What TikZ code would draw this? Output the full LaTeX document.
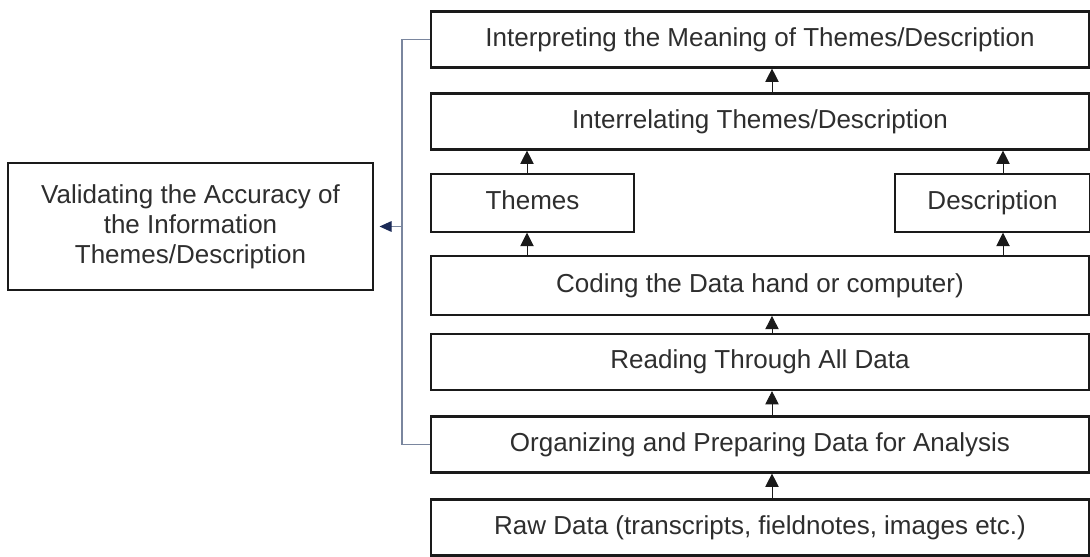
\documentclass[tikz,border=0pt]{standalone}
\usepackage{fontspec}
\setmainfont{Liberation Sans}
\usetikzlibrary{arrows.meta}
\definecolor{boxline}{HTML}{1A1A1A}
\definecolor{boxtext}{HTML}{2E2E2E}
\definecolor{brline}{HTML}{7A869E}
\definecolor{navy}{HTML}{1B2A57}
\tikzset{
  stage/.style={draw=boxline, line width=1.6pt, fill=white, minimum height=42pt,
    inner sep=2pt, text=boxtext, font=\fontsize{19.5}{22.5}\selectfont},
  oneline/.style={stage, text height=14pt, text depth=4pt},
  up/.style={-{Triangle[width=10pt,length=10pt]}, line width=0.7pt, boxline},
  bracket/.style={brline, line width=0.8pt},
}
\begin{document}
\begin{tikzpicture}[x=0.75pt,y=-0.75pt]
    \useasboundingbox (0,0) rectangle (1090,557);

    % 箭头所在的竖线位置
    \coordinate (cx) at (772,0);
    \coordinate (tx) at (527,0);
    \coordinate (dx) at (1003,0);

    % 各阶段方框
    \node[oneline, minimum width=494pt] (interp) at (760,39.5) {Interpreting the Meaning of Themes/Description};
    \node[oneline, minimum width=494pt] (interrel) at (760,121.5) {Interrelating Themes/Description};
    \node[oneline, minimum width=152pt, minimum height=43pt] (themes) at (532.5,203) {Themes};
    \node[oneline, minimum width=146pt, minimum height=43pt] (desc) at (992.5,203) {Description};
    \node[oneline, minimum width=494pt, minimum height=44pt] (code) at (760,285.5) {Coding the Data hand or computer)};
    \node[oneline, minimum width=494pt] (read) at (760,362) {Reading Through All Data};
    \node[oneline, minimum width=494pt] (org) at (760,444.5) {Organizing and Preparing Data for Analysis};
    \node[oneline, minimum width=494pt] (raw) at (760,527.5) {Raw Data (transcripts, fieldnotes, images etc.)};
    \node[stage, minimum width=274pt, minimum height=95pt, align=center, inner sep=6pt] (valid) at (190.5,226.5)
        {Validating the Accuracy of\\the Information\\Themes/Description};

    % 向上的箭头
    \draw[up] (raw.north -| cx) -- (org.south -| cx);
    \draw[up] (org.north -| cx) -- (read.south -| cx);
    \draw[up] (read.north -| cx) -- (code.south -| cx);
    \draw[up] (code.north -| tx) -- (themes.south -| tx);
    \draw[up] (code.north -| dx) -- (desc.south -| dx);
    \draw[up] (themes.north -| tx) -- (interrel.south -| tx);
    \draw[up] (desc.north -| dx) -- (interrel.south -| dx);
    \draw[up] (interrel.north -| cx) -- (interp.south -| cx);

    % 左侧的括线和指向验证框的箭头
    \coordinate (br) at (402,227);
    \draw[bracket] (interp.west) -| (br) |- (org.west);
    \draw[bracket, -{Triangle[width=8pt,length=9pt,color=navy]}, shorten >=4pt] (br) -- (valid.east -| br) -- (valid.east);
\end{tikzpicture}
\end{document}
